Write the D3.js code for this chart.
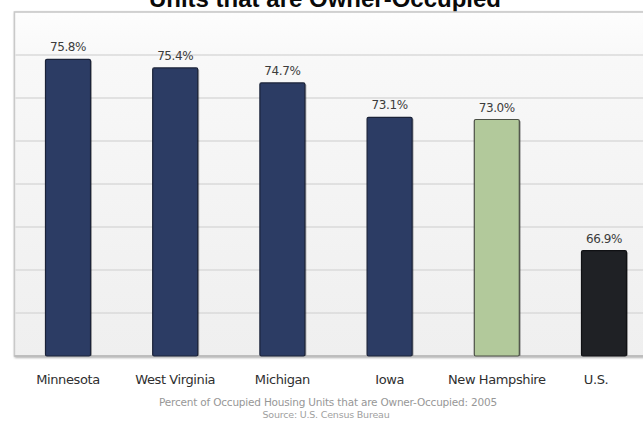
<!DOCTYPE html>
<html>
<head>
<meta charset="utf-8">
<script src="https://cdn.jsdelivr.net/npm/d3@7"></script>
<style>
  html, body { margin: 0; padding: 0; background: #ffffff; }
  svg { display: block; }
</style>
</head>
<body>
<svg id="chart" width="643" height="431"></svg>
<script>
// Owner-occupied housing share by state, 2005
const categories = ["Minnesota", "West Virginia", "Michigan", "Iowa", "New Hampshire", "U.S."];
const values = [75.8, 75.4, 74.7, 73.1, 73.0, 66.9];
const valueLabels = ["75.8%", "75.4%", "74.7%", "73.1%", "73.0%", "66.9%"];
const barGroups = ["state", "state", "state", "state", "highlight", "nation"];
const gridTicks = [64, 66, 68, 70, 72, 74, 76];

const title = "Units that are Owner-Occupied";
const footnote = "Percent of Occupied Housing Units that are Owner-Occupied: 2005";
const source = "Source: U.S. Census Bureau";

const fills = { state: "#2c3c64", highlight: "#b2c99b", nation: "#1f2125" };
const strokes = { state: "#1a2238", highlight: "#4b4f45", nation: "#101114" };

const svg = d3.select("#chart");

const frame = { left: 14.4, top: 12, right: 657.6, bottom: 356 };

const x = d3.scaleBand()
  .domain(categories)
  .range([frame.left, frame.right])
  .paddingInner(0.58)
  .paddingOuter(0.29);

const y = d3.scaleLinear()
  .domain([62, 78])
  .range([frame.bottom, frame.top]);

const defs = svg.append("defs");
const bg = defs.append("linearGradient")
  .attr("id", "plotBg").attr("x1", 0).attr("y1", 0).attr("x2", 0).attr("y2", 1);
bg.append("stop").attr("offset", "0%").attr("stop-color", "#fdfdfd");
bg.append("stop").attr("offset", "14%").attr("stop-color", "#f8f8f8");
bg.append("stop").attr("offset", "100%").attr("stop-color", "#efefef");

const shade = defs.append("filter").attr("id", "frameShade")
  .attr("x", "-5%").attr("y", "-5%").attr("width", "110%").attr("height", "110%");
shade.append("feGaussianBlur").attr("in", "SourceAlpha").attr("stdDeviation", 1.2).attr("result", "b");
shade.append("feOffset").attr("in", "b").attr("dx", 0.5).attr("dy", 1).attr("result", "o");
shade.append("feComponentTransfer").attr("in", "o").attr("result", "s")
  .append("feFuncA").attr("type", "linear").attr("slope", 0.35);
const merge = shade.append("feMerge");
merge.append("feMergeNode").attr("in", "s");
merge.append("feMergeNode").attr("in", "SourceGraphic");

// Title, partly above the top edge
svg.append("text")
  .attr("x", 325)
  .attr("y", 6.5)
  .attr("text-anchor", "middle")
  .attr("font-family", "'Liberation Sans', Arial, sans-serif")
  .attr("font-weight", "bold")
  .attr("font-size", 24)
  .attr("fill", "#0a0a0a")
  .text(title);

// Plot frame
svg.append("rect")
  .attr("x", frame.left)
  .attr("y", frame.top)
  .attr("width", frame.right - frame.left)
  .attr("height", frame.bottom - frame.top)
  .attr("fill", "url(#plotBg)")
  .attr("stroke", "#c9c9c9")
  .attr("stroke-width", 1.6)
  .attr("filter", "url(#frameShade)");

// Horizontal gridlines
svg.append("g")
  .selectAll("line")
  .data(gridTicks)
  .join("line")
  .attr("x1", frame.left + 1)
  .attr("x2", frame.right)
  .attr("y1", d => y(d))
  .attr("y2", d => y(d))
  .attr("stroke", "#dadada")
  .attr("stroke-width", 1.5);

// Baseline
svg.append("line")
  .attr("x1", frame.left)
  .attr("x2", frame.right)
  .attr("y1", y(62))
  .attr("y2", y(62))
  .attr("stroke", "#b9b9b9")
  .attr("stroke-width", 1.6);

const data = categories.map((c, i) => ({
  cat: c, value: values[i], label: valueLabels[i], group: barGroups[i]
}));

// Bar shadows
svg.append("g")
  .selectAll("rect")
  .data(data)
  .join("rect")
  .attr("x", d => x(d.cat) + 1.5)
  .attr("y", d => y(d.value) + 1)
  .attr("width", x.bandwidth())
  .attr("height", d => y(62) - y(d.value) - 1)
  .attr("rx", 1.5)
  .attr("fill", "rgba(0,0,0,0.3)");

// Bars
svg.append("g")
  .selectAll("rect")
  .data(data)
  .join("rect")
  .attr("x", d => x(d.cat))
  .attr("y", d => y(d.value))
  .attr("width", x.bandwidth())
  .attr("height", d => y(62) - y(d.value))
  .attr("rx", 1.5)
  .attr("fill", d => fills[d.group])
  .attr("stroke", d => strokes[d.group])
  .attr("stroke-width", 1.2);

// Value labels
svg.append("g")
  .selectAll("text")
  .data(data)
  .join("text")
  .attr("x", d => x(d.cat) + x.bandwidth() / 2)
  .attr("y", d => y(d.value) - 8)
  .attr("text-anchor", "middle")
  .attr("font-family", "'DejaVu Sans', sans-serif")
  .attr("font-size", 12)
  .attr("letter-spacing", -0.4)
  .attr("fill", "#3c3c3c")
  .text(d => d.label);

// Category axis labels
const xAxis = d3.axisBottom(x).tickSize(0).tickPadding(0);
const axisG = svg.append("g")
  .attr("transform", `translate(0, ${frame.bottom + 28})`)
  .call(xAxis);
axisG.select(".domain").remove();
axisG.selectAll("text")
  .attr("dy", 0)
  .attr("font-family", "'DejaVu Sans', sans-serif")
  .attr("font-size", 13)
  .attr("letter-spacing", -0.4)
  .attr("fill", "#2f2f2f");
// U.S. label sits slightly left of its bar centre
axisG.selectAll(".tick").filter(d => d === "U.S.").select("text").attr("x", -8);

// Footnotes
svg.append("text")
  .attr("x", 328)
  .attr("y", 406)
  .attr("text-anchor", "middle")
  .attr("font-family", "'DejaVu Sans', sans-serif")
  .attr("font-size", 10.5)
  .attr("letter-spacing", -0.2)
  .attr("fill", "#979797")
  .text(footnote);

svg.append("text")
  .attr("x", 326)
  .attr("y", 418)
  .attr("text-anchor", "middle")
  .attr("font-family", "'DejaVu Sans', sans-serif")
  .attr("font-size", 9.5)
  .attr("letter-spacing", -0.2)
  .attr("fill", "#a0a0a0")
  .text(source);
</script>
</body>
</html>
